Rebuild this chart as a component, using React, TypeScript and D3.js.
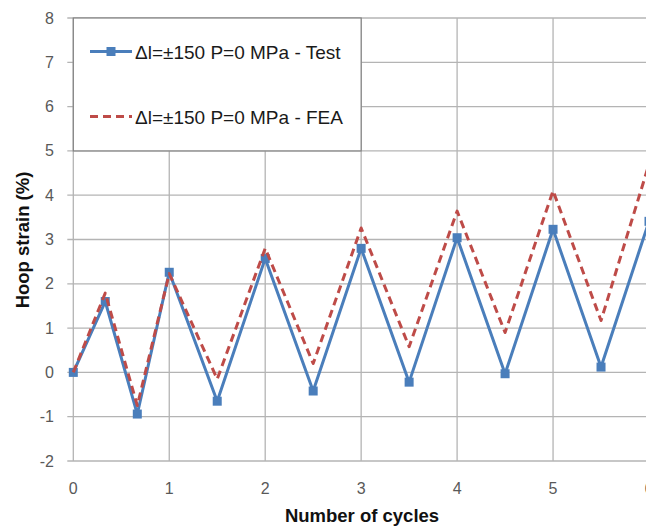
import React from "react";
import * as d3 from "d3";

const cycles = [0, 0.333, 0.667, 1, 1.5, 2, 2.5, 3, 3.5, 4, 4.5, 5, 5.5, 6];
const testValues = [0, 1.6, -0.94, 2.26, -0.65, 2.57, -0.42, 2.8, -0.22, 3.04, -0.03, 3.23, 0.12, 3.41];
const feaValues = [0, 1.79, -0.75, 2.23, -0.15, 2.8, 0.2, 3.26, 0.58, 3.64, 0.9, 4.1, 1.17, 4.7];
const xTicks = [0, 1, 2, 3, 4, 5, 6];
const yTicks = [-2, -1, 0, 1, 2, 3, 4, 5, 6, 7, 8];
const seriesNames = ["\u0394l=\u00b1150 P=0 MPa - Test", "\u0394l=\u00b1150 P=0 MPa - FEA"];

const W = 646;
const H = 527;
const left = 73.3;
const right = 649;
const top = 18;
const bottom = 461;
const blue = "#4A7EBB";
const red = "#BE4B48";
const grid = "#B4B4B4";
const font = "'Liberation Sans', Arial, sans-serif";

export default function App() {
  const x = d3.scaleLinear().domain([0, 6]).range([left, right]);
  const y = d3.scaleLinear().domain([-2, 8]).range([bottom, top]);
  const line = d3
    .line<number>()
    .x((_, i) => x(cycles[i]))
    .y((d) => y(d));

  return (
    <svg
      width={W}
      height={H}
      style={{ position: "absolute", left: 0, top: 0, background: "#fff" }}
      fontFamily={font}
    >
      <rect x={0} y={0} width={W} height={H} fill="#fff" />
      {/* grid */}
      {yTicks.map((t) => (
        <line key={"gy" + t} x1={left - 6} x2={right} y1={y(t)} y2={y(t)} stroke={grid} strokeWidth={1.3} />
      ))}
      {xTicks.map((t) => (
        <line key={"gx" + t} x1={x(t)} x2={x(t)} y1={top} y2={bottom} stroke={grid} strokeWidth={1.3} />
      ))}
      {/* y tick labels */}
      {yTicks.map((t) => (
        <text key={"ly" + t} x={54} y={y(t) + 5.5} textAnchor="end" fontSize={16} fill="#595959">
          {t}
        </text>
      ))}
      {xTicks.map((t) => (
        <text key={"lx" + t} x={x(t)} y={494} textAnchor="middle" fontSize={16} fill="#595959">
          {t}
        </text>
      ))}
      {/* series */}
      <path d={line(testValues) || ""} fill="none" stroke={blue} strokeWidth={3} strokeLinejoin="round" />
      {testValues.map((v, i) => (
        <rect key={"m" + i} x={x(cycles[i]) - 4.5} y={y(v) - 4.5} width={9} height={9} fill={blue} />
      ))}
      <path
        d={line(feaValues) || ""}
        fill="none"
        stroke={red}
        strokeWidth={3}
        strokeDasharray="8,5"
        strokeLinejoin="round"
      />
      {/* legend */}
      <rect x={x(0)} y={y(8)} width={x(3) - x(0)} height={y(5) - y(8)} fill="#fff" stroke="#808080" strokeWidth={1.2} />
      <line x1={90} x2={132} y1={51.5} y2={51.5} stroke={blue} strokeWidth={3} />
      <rect x={106.5} y={47} width={9} height={9} fill={blue} />
      <text x={135} y={58.5} fontSize={19} fill="#1a1a1a">
        {seriesNames[0]}
      </text>
      <line x1={90} x2={132} y1={116.5} y2={116.5} stroke={red} strokeWidth={3} strokeDasharray="8,5" />
      <text x={135} y={123.5} fontSize={19} fill="#1a1a1a">
        {seriesNames[1]}
      </text>
      {/* axis titles */}
      <text x={362} y={522} textAnchor="middle" fontSize={18.5} fontWeight="bold" fill="#111">
        Number of cycles
      </text>
      <text
        transform={`translate(29,${240}) rotate(-90)`}
        textAnchor="middle"
        fontSize={18.5}
        fontWeight="bold"
        fill="#111"
      >
        Hoop strain (%)
      </text>
    </svg>
  );
}
